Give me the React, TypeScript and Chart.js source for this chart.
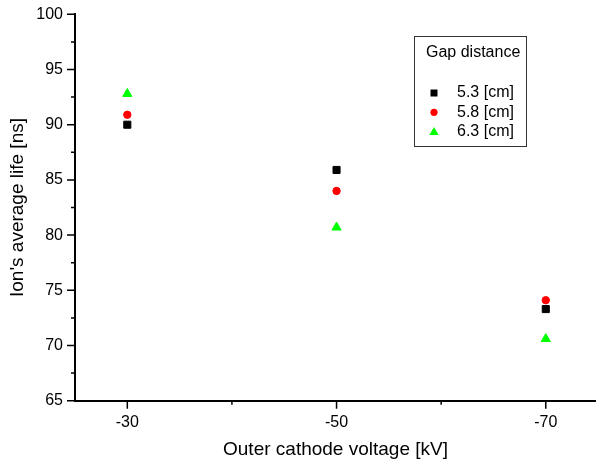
import React, { useEffect, useRef } from 'react';
import { Chart, registerables } from 'chart.js';

Chart.register(...registerables);

// ---- data ----
const voltages = [-30, -50, -70];
const gap53 = [90.0, 85.9, 73.3];
const gap58 = [90.9, 84.0, 74.1];
const gap63 = [92.8, 80.7, 70.6];
const seriesLabels = ['5.3 [cm]', '5.8 [cm]', '6.3 [cm]'];
const legendTitle = 'Gap distance';
const xMajorTicks = [-30, -50, -70];
const xMinorTicks = [-40, -60];
const yMajorTicks = [65, 70, 75, 80, 85, 90, 95, 100];
const yMinorTicks = [67.5, 72.5, 77.5, 82.5, 87.5, 92.5, 97.5];
const xTitle = 'Outer cathode voltage [kV]';
const yTitle = "Ion's average life [ns]";

const FONT = "'Liberation Sans', Arial, sans-serif";

const tickMarksPlugin = {
  id: 'tickMarks',
  afterDraw(chart: any) {
    const { ctx, scales } = chart;
    const x = scales.x;
    const y = scales.y;
    const bottom = chart.chartArea.bottom;
    const left = chart.chartArea.left;
    ctx.save();
    ctx.strokeStyle = '#000';
    ctx.lineWidth = 1.5;
    ctx.beginPath();
    xMajorTicks.forEach((v) => {
      const px = x.getPixelForValue(v);
      ctx.moveTo(px, bottom);
      ctx.lineTo(px, bottom + 8);
    });
    xMinorTicks.forEach((v) => {
      const px = x.getPixelForValue(v);
      ctx.moveTo(px, bottom);
      ctx.lineTo(px, bottom + 4);
    });
    yMajorTicks.forEach((v) => {
      const py = y.getPixelForValue(v);
      ctx.moveTo(left, py);
      ctx.lineTo(left - 8, py);
    });
    yMinorTicks.forEach((v) => {
      const py = y.getPixelForValue(v);
      ctx.moveTo(left, py);
      ctx.lineTo(left - 4, py);
    });
    ctx.stroke();
    ctx.restore();
  },
};

function drawMarker(ctx: CanvasRenderingContext2D, style: string, cx: number, cy: number, color: string) {
  ctx.fillStyle = color;
  ctx.beginPath();
  if (style === 'rect') {
    ctx.rect(cx - 3.5, cy - 3.5, 7, 7);
  } else if (style === 'circle') {
    ctx.arc(cx, cy, 3.6, 0, Math.PI * 2);
  } else {
    ctx.moveTo(cx, cy - 4.5);
    ctx.lineTo(cx + 4.7, cy + 3.5);
    ctx.lineTo(cx - 4.7, cy + 3.5);
    ctx.closePath();
  }
  ctx.fill();
}

const legendBoxPlugin = {
  id: 'legendBox',
  afterDraw(chart: any) {
    const { ctx } = chart;
    const opts = chart.options.plugins.legendBox;
    ctx.save();
    ctx.strokeStyle = '#333';
    ctx.lineWidth = 1;
    ctx.strokeRect(opts.left + 0.5, opts.top + 0.5, opts.width, opts.height);
    ctx.fillStyle = '#000';
    ctx.font = `16px ${FONT}`;
    ctx.textBaseline = 'middle';
    ctx.textAlign = 'left';
    ctx.fillText(opts.title, opts.left + 12, opts.top + 17);
    chart.data.datasets.forEach((ds: any, i: number) => {
      const cy = opts.top + 57 + i * 19.3;
      drawMarker(ctx, ds.pointStyle, opts.left + 20, cy, ds.backgroundColor);
      ctx.fillStyle = '#000';
      ctx.fillText(ds.label, opts.left + 43, cy);
    });
    ctx.restore();
  },
};

const zeroPad = (s: any) => {
  s.paddingTop = 0;
  s.paddingBottom = 0;
  s.paddingLeft = 0;
  s.paddingRight = 0;
};

export default function App() {
  const ref = useRef<HTMLCanvasElement | null>(null);

  useEffect(() => {
    if (!ref.current) return;
    const mk = (vals: number[]) => voltages.map((v, i) => ({ x: v, y: vals[i] }));
    const chart = new Chart(ref.current, {
      type: 'scatter',
      data: {
        datasets: [
          {
            label: seriesLabels[0],
            data: mk(gap53),
            pointStyle: 'rect',
            pointRadius: 5,
            pointHoverRadius: 5,
            backgroundColor: '#000000',
            borderColor: '#000000',
            borderWidth: 1,
          },
          {
            label: seriesLabels[1],
            data: mk(gap58),
            pointStyle: 'circle',
            pointRadius: 3.7,
            pointHoverRadius: 3.7,
            backgroundColor: '#ff0000',
            borderColor: '#ff0000',
            borderWidth: 1,
          },
          {
            label: seriesLabels[2],
            data: mk(gap63),
            pointStyle: 'triangle',
            pointRadius: 5.3,
            pointHoverRadius: 5.3,
            backgroundColor: '#00ff00',
            borderColor: '#00ff00',
            borderWidth: 1,
          },
        ] as any,
      },
      options: {
        animation: false,
        responsive: false,
        devicePixelRatio: 1,
        layout: { autoPadding: false, padding: { top: 14.3, right: 0, left: 0, bottom: 0 } },
        plugins: {
          legend: { display: false },
          tooltip: { enabled: false },
          legendBox: { left: 414, top: 36, width: 112, height: 110, title: legendTitle },
        } as any,
        scales: {
          x: {
            type: 'linear',
            min: -74.8,
            max: -25,
            reverse: true,
            afterFit: (s: any) => {
              s.height = 63.3;
              zeroPad(s);
            },
            afterBuildTicks: (s: any) => {
              s.ticks = xMajorTicks.map((v) => ({ value: v }));
            },
            grid: { display: false, drawTicks: false },
            border: { display: true, color: '#000', width: 2 },
            ticks: {
              color: '#000',
              font: { family: FONT, size: 16 },
              padding: 12,
              maxRotation: 0,
              autoSkip: false,
              callback: (v: any) => String(v),
            },
            title: {
              display: true,
              text: xTitle,
              color: '#000',
              font: { family: FONT, size: 19 },
              padding: { top: 0, bottom: 3 },
            },
          },
          y: {
            type: 'linear',
            min: 65,
            max: 100,
            afterFit: (s: any) => {
              s.width = 75;
              zeroPad(s);
            },
            afterBuildTicks: (s: any) => {
              s.ticks = yMajorTicks.map((v) => ({ value: v }));
            },
            grid: { display: false, drawTicks: false },
            border: { display: true, color: '#000', width: 2 },
            ticks: {
              color: '#000',
              font: { family: FONT, size: 16 },
              padding: 12,
              autoSkip: false,
              callback: (v: any) => String(v),
            },
            title: {
              display: true,
              text: yTitle,
              color: '#000',
              font: { family: FONT, size: 19 },
              padding: { top: 6, bottom: 0 },
            },
          },
        },
      } as any,
      plugins: [tickMarksPlugin, legendBoxPlugin],
    });
    return () => chart.destroy();
  }, []);

  return (
    <div style={{ position: 'absolute', left: 0, top: 0, width: 596, height: 464, background: '#fff' }}>
      <canvas ref={ref} width={596} height={464} style={{ width: 596, height: 464, display: 'block' }} />
    </div>
  );
}
